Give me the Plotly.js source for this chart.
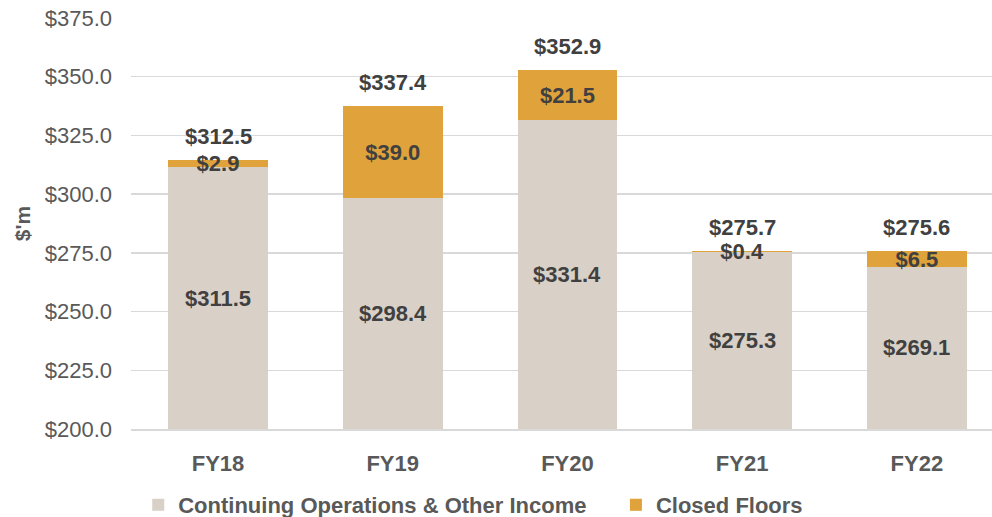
<!DOCTYPE html>
<html>
<head>
<meta charset="utf-8">
<script src="https://cdn.plot.ly/plotly-3.0.1.min.js"></script>
<style>html,body{margin:0;padding:0;background:#fff;}#chart{width:992px;height:517px;}</style>
</head>
<body>
<div id="chart"></div>
<script>
const categories = ['FY18', 'FY19', 'FY20', 'FY21', 'FY22'];
const continuing = [311.5, 298.4, 331.4, 275.3, 269.1];
const closedFloors = [2.9, 39.0, 21.5, 0.4, 6.5];
const totals = [312.5, 337.4, 352.9, 275.7, 275.6];
const yTicks = [200, 225, 250, 275, 300, 325, 350, 375];
const yRange = [200, 375];
const seriesNames = ['Continuing Operations & Other Income', 'Closed Floors'];

const fmt = v => '$' + v.toFixed(1);
const FONT = 'Liberation Sans, Arial, sans-serif';
const labelFont = {family: FONT, size: 22, color: '#404040', weight: 'bold'};
const PAD = '\u00a0\u00a0\u00a0\u00a0';

const traces = [
  {
    type: 'bar', name: seriesNames[0] + PAD,
    x: categories, y: continuing, width: 0.57,
    marker: {color: '#D9D0C7'},
    hoverinfo: 'skip'
  },
  {
    type: 'bar', name: seriesNames[1],
    x: categories, y: closedFloors, width: 0.57,
    marker: {color: '#E0A23A'},
    text: closedFloors.map(fmt), textposition: 'inside', insidetextanchor: 'middle',
    textangle: 0, constraintext: 'none', insidetextfont: labelFont,
    hoverinfo: 'skip'
  }
];

// labels of the continuing segment, centred on its visible part
const contLabels = categories.map((c, i) => ({
  x: c, y: (yRange[0] + continuing[i]) / 2, xref: 'x', yref: 'y',
  text: fmt(continuing[i]), showarrow: false, yanchor: 'middle',
  font: labelFont
}));
const totalLabels = categories.map((c, i) => ({
  x: c, y: continuing[i] + closedFloors[i], xref: 'x', yref: 'y',
  text: fmt(totals[i]), showarrow: false, yanchor: 'bottom', yshift: 9,
  font: labelFont
}));

const layout = {
  width: 992, height: 517,
  margin: {l: 131, r: 0, t: 18, b: 88, autoexpand: false},
  barmode: 'stack',
  paper_bgcolor: '#fff', plot_bgcolor: '#fff',
  showlegend: true,
  legend: {
    orientation: 'h', x: 0.0084, xanchor: 'left', y: -0.185, yanchor: 'middle',
    bgcolor: 'rgba(0,0,0,0)',
    font: {family: FONT, size: 22, color: '#595959', weight: 'bold'},
    traceorder: 'normal'
  },
  xaxis: {
    type: 'category', range: [-0.498, 4.43],
    showline: true, linecolor: '#D9D9D9', linewidth: 2,
    ticks: '', ticklabelstandoff: 14,
    tickfont: {family: FONT, size: 22, color: '#595959', weight: 'bold'},
    fixedrange: true
  },
  yaxis: {
    range: yRange, tickvals: yTicks, ticktext: yTicks.map(fmt),
    showgrid: true, gridcolor: '#D9D9D9', gridwidth: 1.5,
    zeroline: false, showline: false, ticks: '',
    ticklabelstandoff: 18,
    tickfont: {family: FONT, size: 22, color: '#595959'},
    title: {text: "$'m", standoff: 8, font: {family: FONT, size: 21, color: '#595959', weight: 'bold'}},
    fixedrange: true
  },
  annotations: contLabels.concat(totalLabels)
};

Plotly.newPlot('chart', traces, layout, {displayModeBar: false, staticPlot: true});
</script>
</body>
</html>
